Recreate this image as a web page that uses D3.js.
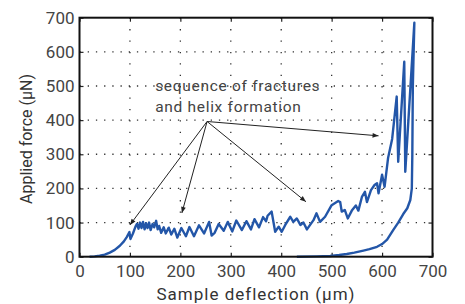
<!DOCTYPE html>
<html>
<head>
<meta charset="utf-8">
<script src="https://cdn.jsdelivr.net/npm/d3@7"></script>
<style>
  body { margin: 0; background: #fff; }
  svg { display: block; font-family: Roboto, sans-serif; }
</style>
</head>
<body>
<svg id="chart" width="465" height="304"></svg>
<script>
// loading curve, deflection (µm) vs force (µN)
const loading = [
  [20, 0], [30, 1], [40, 3], [50, 6], [60, 12], [70, 20], [80, 32], [88, 45], [94, 58], [99, 72],
  [101, 52], [106, 68], [111, 88], [114, 96], [117, 82], [120, 100], [123, 84], [126, 102],
  [129, 80], [132, 98], [135, 84], [138, 100], [141, 78], [145, 96], [148, 86], [152, 105],
  [155, 80], [158, 90], [162, 70], [167, 86], [171, 68], [177, 85], [182, 65], [188, 82],
  [194, 56], [202, 84], [211, 60], [218, 87], [227, 60], [237, 92], [247, 68], [257, 102],
  [262, 62], [268, 70], [276, 96], [286, 76], [294, 102], [303, 74], [311, 106], [322, 78],
  [331, 104], [340, 80], [347, 110], [356, 86], [364, 116], [370, 104], [373, 120], [381, 132],
  [388, 73], [395, 88], [401, 73], [408, 93], [418, 117], [424, 102], [431, 112], [438, 93],
  [444, 100], [451, 80], [464, 107], [470, 127], [477, 102], [487, 117], [500, 151], [513, 163],
  [517, 160], [520, 132], [526, 137], [532, 112], [540, 135], [548, 150], [553, 135], [560, 175],
  [566, 190], [570, 160], [578, 195], [585, 210], [590, 215], [593, 186], [600, 240], [605, 205],
  [612, 290], [620, 345], [629, 469], [632, 278], [644, 571], [646, 249], [664, 685]
];
// unloading curve
const unloading = [
  [664, 685], [661, 500], [660, 300], [659, 200], [656, 166], [650, 142], [642, 125], [632, 100],
  [622, 78], [610, 50], [600, 37], [590, 29], [575, 22], [563, 18], [545, 12], [530, 8],
  [515, 5], [497, 2], [470, 1], [431, 0]
];

const xTicks = [0, 100, 200, 300, 400, 500, 600, 700];
const yTicks = [0, 100, 200, 300, 400, 500, 600, 700];

const noteLines = ["sequence of fractures", "and helix formation"];
const noteFrom = [253, 396];
const noteTargets = [[100, 93], [203, 128], [449, 161], [593, 354]];

const margin = { top: 17.7, right: 32.5, bottom: 47.3, left: 79.5 };
const width = 465 - margin.left - margin.right;
const height = 304 - margin.top - margin.bottom;

const svg = d3.select("#chart");
const g = svg.append("g").attr("transform", `translate(${margin.left},${margin.top})`);

const x = d3.scaleLinear().domain([0, 700]).range([0, width]);
const y = d3.scaleLinear().domain([0, 700]).range([height, 0]);

// dotted grid
g.append("g")
  .selectAll("line")
  .data(xTicks.slice(1, -1))
  .join("line")
  .attr("x1", (d) => x(d))
  .attr("x2", (d) => x(d))
  .attr("y1", 0)
  .attr("y2", height)
  .attr("stroke", "#333")
  .attr("stroke-width", 1.3)
  .attr("stroke-dasharray", "1.3,10.1");

g.append("g")
  .selectAll("line")
  .data(yTicks.slice(1, -1))
  .join("line")
  .attr("x1", 0)
  .attr("x2", width)
  .attr("y1", (d) => y(d))
  .attr("y2", (d) => y(d))
  .attr("stroke", "#333")
  .attr("stroke-width", 1.3)
  .attr("stroke-dasharray", "1.3,6.9");

// axes, ticks inward
function styleAxis(sel) {
  sel.select(".domain").remove();
  sel.selectAll(".tick line").attr("stroke", "#222").attr("stroke-width", 1.2);
  sel.selectAll(".tick text")
    .attr("fill", "#444")
    .style("font-size", "17px")
    .style("font-family", "Roboto, sans-serif");
}

g.append("g")
  .attr("transform", `translate(0,${height})`)
  .call(d3.axisBottom(x).tickValues(xTicks).tickSize(-4).tickPadding(8))
  .call(styleAxis);

g.append("g")
  .call(d3.axisLeft(y).tickValues(yTicks).tickSize(-4).tickPadding(5))
  .call(styleAxis);

g.append("g")
  .attr("transform", `translate(${width},0)`)
  .call(d3.axisRight(y).tickValues(yTicks).tickSize(-4).tickFormat(""))
  .call(styleAxis);

g.append("g")
  .call(d3.axisTop(x).tickValues(xTicks).tickSize(-4).tickFormat(""))
  .call(styleAxis);

// curve
const line = d3.line()
  .x((d) => x(d[0]))
  .y((d) => y(d[1]));

g.append("path")
  .datum(loading.concat(unloading.slice(1)))
  .attr("d", line)
  .attr("fill", "none")
  .attr("stroke", "#2356a8")
  .attr("stroke-width", 2.4)
  .attr("stroke-linejoin", "round");

// frame
g.append("rect")
  .attr("width", width)
  .attr("height", height)
  .attr("fill", "none")
  .attr("stroke", "#111")
  .attr("stroke-width", 2);

// annotation
svg.append("defs")
  .append("marker")
  .attr("id", "head")
  .attr("viewBox", "0 0 10 10")
  .attr("refX", 10)
  .attr("refY", 5)
  .attr("markerWidth", 7)
  .attr("markerHeight", 6)
  .attr("orient", "auto")
  .append("path")
  .attr("d", "M0,1 L10,5 L0,9 Z")
  .attr("fill", "#222");

g.append("g")
  .selectAll("line")
  .data(noteTargets)
  .join("line")
  .attr("x1", x(noteFrom[0]))
  .attr("y1", y(noteFrom[1]))
  .attr("x2", (d) => x(d[0]))
  .attr("y2", (d) => y(d[1]))
  .attr("stroke", "#222")
  .attr("stroke-width", 1)
  .attr("marker-end", "url(#head)");

g.append("g")
  .selectAll("text")
  .data(noteLines)
  .join("text")
  .attr("x", x(150))
  .attr("y", (d, i) => y(484) + i * 21)
  .attr("fill", "#444")
  .style("font-size", "15.5px")
  .style("letter-spacing", "0.7px")
  .text((d) => d);

// axis titles
svg.append("text")
  .attr("x", margin.left + width / 2)
  .attr("y", 300)
  .attr("text-anchor", "middle")
  .attr("fill", "#333")
  .style("font-size", "17px")
  .style("letter-spacing", "1px")
  .text("Sample deflection (µm)");

svg.append("text")
  .attr("transform", `translate(32,139) rotate(-90)`)
  .attr("text-anchor", "middle")
  .attr("fill", "#333")
  .style("font-size", "16px")
  .text("Applied force (µN)");
</script>
</body>
</html>
